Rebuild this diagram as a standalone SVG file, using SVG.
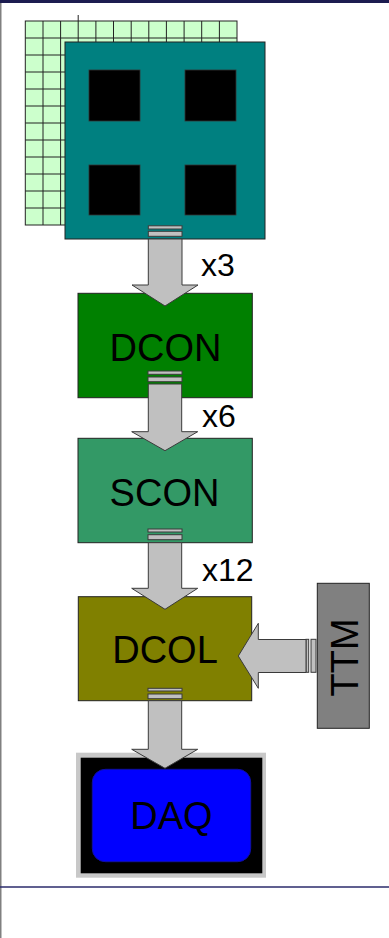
<svg xmlns="http://www.w3.org/2000/svg" width="389" height="938" viewBox="0 0 389 938">
<style>
.box{stroke:#222;stroke-width:1}
.lbl{font-family:"Liberation Sans",Arial,sans-serif;font-size:38px;fill:#000;text-anchor:middle}
.mult{font-family:"Liberation Sans",Arial,sans-serif;font-size:32px;fill:#000}
.arrow{fill:#c0c0c0;stroke:#3a3a3a;stroke-width:1;stroke-linejoin:miter}
.slot{fill:#c0c0c0;stroke:#3a3a3a;stroke-width:1}
</style>
<rect x="0" y="0" width="389" height="938" fill="#fff"/>
<rect x="0" y="0" width="389" height="3" fill="#1c1c50"/>
<line x1="0.75" y1="3" x2="0.75" y2="938" stroke="#808080" stroke-width="1.5"/>
<line x1="0" y1="887" x2="389" y2="887" stroke="#2b2b6b" stroke-width="1.5"/>

<g id="sensor">
  <rect x="25.3" y="21" width="211.7" height="204" fill="#ccffcc" stroke="#222" stroke-width="1"/>
  <path d="M43,21V225M60.6,21V225M78.2,21V225M95.9,21V225M113.5,21V225M131.2,21V225M148.8,21V225M166.4,21V225M184.1,21V225M201.7,21V225M219.4,21V225M25.3,38H237M25.3,55H237M25.3,72H237M25.3,89H237M25.3,106H237M25.3,123H237M25.3,140H237M25.3,157H237M25.3,174H237M25.3,191H237M25.3,208H237M78.2,15V21" stroke="#222" stroke-width="1" fill="none"/>
  <rect x="65" y="42" width="200" height="197" fill="#008080" class="box"/>
  <rect x="89" y="70" width="51" height="51" fill="#000" stroke="#333" stroke-width="0.8"/>
  <rect x="185" y="70" width="51" height="51" fill="#000" stroke="#333" stroke-width="0.8"/>
  <rect x="89" y="165" width="51" height="50" fill="#000" stroke="#333" stroke-width="0.8"/>
  <rect x="185" y="165" width="51" height="50" fill="#000" stroke="#333" stroke-width="0.8"/>
</g>

<g id="dcon">
  <rect x="78" y="293.3" width="174.3" height="104.4" fill="#008000" class="box"/>
  <text x="165.5" y="360.5" class="lbl">DCON</text>
</g>

<g id="scon">
  <rect x="78" y="438.3" width="174.3" height="104.4" fill="#339966" class="box"/>
  <text x="164.5" y="505.5" class="lbl">SCON</text>
</g>

<g id="dcol">
  <rect x="78.3" y="596.7" width="173.4" height="104" fill="#808000" class="box"/>
  <text x="165" y="663" class="lbl">DCOL</text>
</g>

<g id="ttm">
  <rect x="317.3" y="583.3" width="52" height="145" fill="#808080" class="box"/>
  <text transform="translate(357.5,657.5) rotate(-90)" class="lbl">TTM</text>
</g>

<g id="daq">
  <rect x="76" y="752.7" width="190" height="125" fill="#c8c8c8"/>
  <rect x="80.7" y="757.7" width="181.6" height="115.6" fill="#000"/>
  <rect x="92.3" y="769.3" width="158.4" height="92.4" rx="13" fill="#0000ff" stroke="#1010a0" stroke-width="1"/>
  <text x="171.5" y="828.5" class="lbl">DAQ</text>
</g>

<g id="connectors">
  <rect x="148.3" y="225.8" width="33.7" height="3.2" class="slot"/>
  <rect x="148.3" y="231.3" width="33.7" height="5" class="slot"/>
  <path class="arrow" d="M148.3,239V285H132L165,306L198,285H182V239Z"/>
  <text x="201" y="276" class="mult">x3</text>

  <rect x="148" y="371" width="34" height="3.3" class="slot"/>
  <rect x="148" y="377" width="34" height="4.7" class="slot"/>
  <path class="arrow" d="M148.3,384V431.7H131.7L165,450.7L197.7,431.7H181.7V384Z"/>
  <text x="202" y="427" class="mult">x6</text>

  <rect x="148" y="529" width="34" height="3" class="slot"/>
  <rect x="148" y="534.7" width="34" height="5" class="slot"/>
  <path class="arrow" d="M148.3,542.7V588.3H131.7L165,609.3L197.7,588.3H181.7V542.7Z"/>
  <text x="202" y="580.5" class="mult">x12</text>

  <rect x="148" y="688.3" width="34" height="2.7" class="slot"/>
  <rect x="148" y="694" width="34" height="4.7" class="slot"/>
  <path class="arrow" d="M148.3,700.7V749.3H131.7L165,768.3L197.7,749.3H181.7V700.7Z"/>

  <rect x="306" y="639.3" width="2.7" height="33" class="slot"/>
  <rect x="311" y="639.3" width="5" height="33" class="slot"/>
  <path class="arrow" d="M306,639.5H258.3V623.3L238.3,656L258.3,688.3V672.5H306Z"/>
</g>
</svg>
